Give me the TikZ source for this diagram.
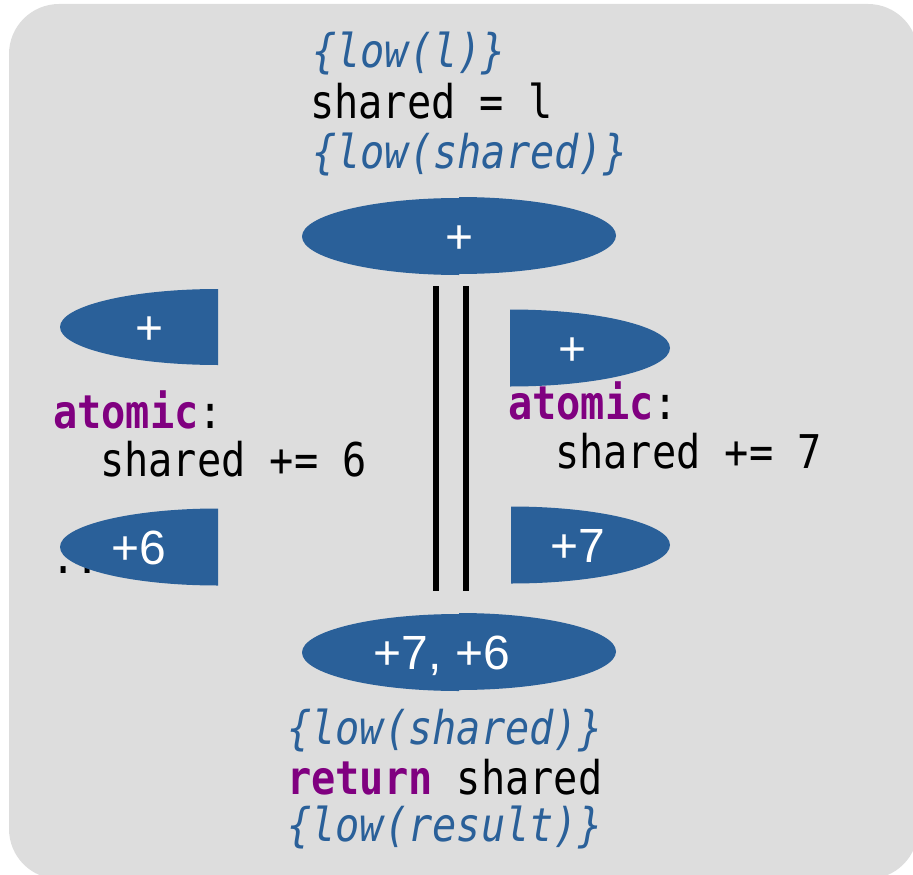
\documentclass[tikz,border=0pt]{standalone}
\usepackage{fontspec}
\setmainfont{Liberation Sans}
\newfontfamily\codefont[FakeStretch=0.866]{DejaVu Sans Mono}
\definecolor{shapeblue}{HTML}{2A6099}
\definecolor{kwpurple}{HTML}{800080}
\definecolor{panelgrey}{HTML}{DDDDDD}
\newcommand{\kw}[1]{\textcolor{kwpurple}{\bfseries #1}}
\tikzset{
  code/.style={anchor=base west, inner sep=0pt, text=black,
    font=\fontsize{46.5}{50}\codefont},
  cond/.style={anchor=base west, inner sep=0pt, text=shapeblue,
    font=\fontsize{46.5}{50}\codefont\itshape},
  blob/.style={fill=shapeblue},
  blobtext/.style={anchor=base, inner sep=0pt, text=white,
    font=\fontsize{48}{50}\selectfont},
  bar/.style={line width=6pt, draw=black},
}
\begin{document}
\begin{tikzpicture}[x=1pt,y=1pt]
  \useasboundingbox (0,0) rectangle (913,-875);
  % panel
  \begin{scope}
    \clip (0,0) rectangle (913,-875);
    \fill[panelgrey, rounded corners=50pt] (9,-4) rectangle (918,-879);
  \end{scope}

  % pre-condition, assignment, post-condition
  \node[cond] (pre)    at (312,-68)  {\{low(l)\}};
  \node[code] (assign) at (310,-118) {shared = l};
  \node[cond] (mid)    at (312,-168) {\{low(shared)\}};

  % fork
  \fill[blob] (459,-198) arc[start angle=90, end angle=270, x radius=157pt, y radius=38.5pt] -- cycle;
  \fill[blob] (459,-274) arc[start angle=-90, end angle=90, x radius=157pt, y radius=38.5pt] -- cycle;
  \node[blobtext] (forkl) at (460,-253) {+};

  % parallel bars
  \draw[bar] (436,-286) -- (436,-591);
  \draw[bar] (466,-286) -- (466,-591);

  % left thread
  \node[code] (dots) at (51,-573) {...};
  \fill[blob] (218,-289) arc[start angle=90, end angle=270, x radius=158pt, y radius=38pt] -- cycle;
  \node[blobtext] (lstart) at (150,-344) {+};
  \node[code] (latomic) at (53,-428) {\kw{atomic}:};
  \node[code] (lbody)   at (100,-476) {shared += 6};
  \fill[blob] (218,-508.5) arc[start angle=90, end angle=270, x radius=158pt, y radius=38.5pt] -- cycle;
  \node[blobtext] (lend) at (139,-564) {+6};

  % right thread
  \fill[blob] (510,-386.5) arc[start angle=-90, end angle=90, x radius=160pt, y radius=38.5pt] -- cycle;
  \node[blobtext] (rstart) at (573,-365) {+};
  \node[code] (ratomic) at (508,-419) {\kw{atomic}:};
  \node[code] (rbody)   at (555,-468) {shared += 7};
  \fill[blob] (511,-583.5) arc[start angle=-90, end angle=90, x radius=159pt, y radius=38.5pt] -- cycle;
  \node[blobtext] (rend) at (578,-562) {+7};

  % join
  \fill[blob] (459,-614) arc[start angle=90, end angle=270, x radius=157pt, y radius=38.5pt] -- cycle;
  \fill[blob] (459,-690) arc[start angle=-90, end angle=90, x radius=157pt, y radius=38.5pt] -- cycle;
  \node[blobtext] (joinl) at (442,-669) {+7, +6};

  % post-condition and return
  \node[cond] (post)   at (287,-744) {\{low(shared)\}};
  \node[code] (ret)    at (287,-794) {\kw{return} shared};
  \node[cond] (result) at (287,-841) {\{low(result)\}};
\end{tikzpicture}
\end{document}
